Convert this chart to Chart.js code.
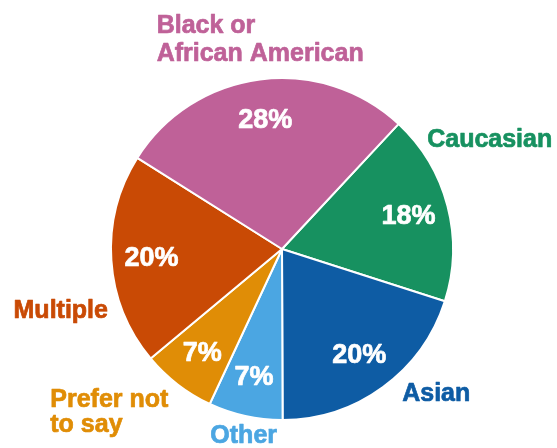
<!DOCTYPE html>
<html>
<head>
<meta charset="utf-8">
<script src="https://cdn.jsdelivr.net/npm/chart.js@4.4.0/dist/chart.umd.min.js"></script>
<style>
  html, body { margin: 0; padding: 0; background: #ffffff; }
  #wrap { width: 557px; height: 448px; position: relative; }
</style>
</head>
<body>
<div id="wrap"><canvas id="c" width="557" height="448"></canvas></div>
<script>
// ---- data ----
const categories = ["Caucasian", "Asian", "Other", "Prefer not\nto say", "Multiple", "Black or\nAfrican American"];
const shares = [18, 20, 7, 7, 20, 28];
const sliceColors = ["#179160", "#0e5ca4", "#4ba6e2", "#e08d06", "#c94a05", "#bf6198"];

// label placement relative to pie centre, in units of the outer radius (first baseline, left aligned)
const labelPlacement = [
  { dx: 0.849, dy: -0.599 },
  { dx: 0.703, dy: 0.890 },
  { dx: -0.419, dy: 1.134 },
  { dx: -1.355, dy: 0.924, lh: 25 },
  { dx: -1.570, dy: 0.401 },
  { dx: -0.733, dy: -1.262, lh: 28 }
];

const pieLabels = {
  id: 'pieLabels',
  afterDatasetsDraw(chart) {
    const ctx = chart.ctx;
    const meta = chart.getDatasetMeta(0);
    const ds = chart.data.datasets[0];
    ctx.save();
    ctx.lineJoin = 'round';
    meta.data.forEach((arc, i) => {
      const p = arc.getProps(['x', 'y', 'startAngle', 'endAngle', 'outerRadius'], true);
      const mid = (p.startAngle + p.endAngle) / 2;
      const rr = p.outerRadius * 0.765;
      // percentage inside
      ctx.fillStyle = '#ffffff';
      ctx.strokeStyle = '#ffffff';
      ctx.lineWidth = 0.7;
      ctx.font = 'bold 27px "Liberation Sans", Arial, sans-serif';
      ctx.textAlign = 'center';
      ctx.textBaseline = 'middle';
      const px = p.x + Math.cos(mid) * rr, py = p.y + Math.sin(mid) * rr + 1;
      ctx.fillText(ds.data[i] + '%', px, py);
      ctx.strokeText(ds.data[i] + '%', px, py);
      // category label outside
      const pl = labelPlacement[i];
      const lx = p.x + pl.dx * p.outerRadius;
      const ly = p.y + pl.dy * p.outerRadius;
      ctx.fillStyle = sliceColors[i];
      ctx.strokeStyle = sliceColors[i];
      ctx.lineWidth = 0.7;
      ctx.font = 'bold 25px "Liberation Sans", Arial, sans-serif';
      ctx.textAlign = 'left';
      ctx.textBaseline = 'alphabetic';
      const lines = chart.data.labels[i].split('\n');
      lines.forEach((ln, k) => {
        const y = ly + k * (pl.lh || 28);
        ctx.fillText(ln, lx, y);
        ctx.strokeText(ln, lx, y);
      });
    });
    ctx.restore();
  }
};

new Chart(document.getElementById('c'), {
  type: 'pie',
  data: {
    labels: categories,
    datasets: [{
      data: shares,
      backgroundColor: sliceColors,
      borderColor: '#ffffff',
      borderWidth: 2
    }]
  },
  options: {
    responsive: false,
    animation: false,
    rotation: 43,
    layout: { padding: { top: 77, bottom: 27, left: 110, right: 103 } },
    plugins: {
      legend: { display: false },
      tooltip: { enabled: false }
    }
  },
  plugins: [pieLabels]
});
</script>
</body>
</html>
